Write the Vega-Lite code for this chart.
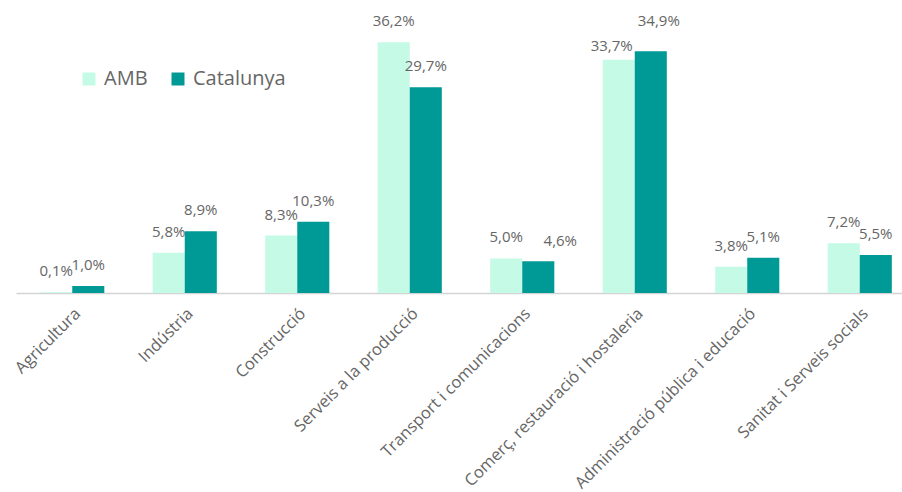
{
  "$schema": "https://vega.github.io/schema/vega-lite/v6.json",
  "width": 900,
  "height": 277,
  "autosize": {"type": "none"},
  "padding": {"left": 16, "top": 16, "right": 0, "bottom": 199},
  "background": "white",
  "config": {
    "view": {"stroke": null},
    "font": "Open Sans",
    "locale": {"number": {"decimal": ",", "thousands": ".", "grouping": [3], "currency": ["", " €"]}}
  },
  "data": {
    "values": [
      {"sector": "Agricultura", "serie": "AMB", "value": 0.001},
      {"sector": "Agricultura", "serie": "Catalunya", "value": 0.010},
      {"sector": "Indústria", "serie": "AMB", "value": 0.058},
      {"sector": "Indústria", "serie": "Catalunya", "value": 0.089},
      {"sector": "Construcció", "serie": "AMB", "value": 0.083},
      {"sector": "Construcció", "serie": "Catalunya", "value": 0.103},
      {"sector": "Serveis a la producció", "serie": "AMB", "value": 0.362},
      {"sector": "Serveis a la producció", "serie": "Catalunya", "value": 0.297},
      {"sector": "Transport i comunicacions", "serie": "AMB", "value": 0.050},
      {"sector": "Transport i comunicacions", "serie": "Catalunya", "value": 0.046},
      {"sector": "Comerç, restauració i hostaleria", "serie": "AMB", "value": 0.337},
      {"sector": "Comerç, restauració i hostaleria", "serie": "Catalunya", "value": 0.349},
      {"sector": "Administració pública i educació", "serie": "AMB", "value": 0.038},
      {"sector": "Administració pública i educació", "serie": "Catalunya", "value": 0.051},
      {"sector": "Sanitat i Serveis socials", "serie": "AMB", "value": 0.072},
      {"sector": "Sanitat i Serveis socials", "serie": "Catalunya", "value": 0.055}
    ]
  },
  "encoding": {
    "x": {
      "field": "sector", "type": "nominal", "sort": null,
      "scale": {"paddingInner": 0.43, "paddingOuter": 0.215},
      "axis": {
        "title": null, "labelAngle": -45, "labelFontSize": 16.5, "labelColor": "#666666",
        "labelPadding": 12, "ticks": false, "domainColor": "#d4d4d4", "domainWidth": 1.5,
        "labelLimit": 400, "labelFont": "Open Sans"
      }
    },
    "xOffset": {"field": "serie", "type": "nominal", "scale": {"paddingInner": 0, "paddingOuter": 0}},
    "y": {
      "field": "value", "type": "quantitative",
      "scale": {"domain": [0, 0.4], "nice": false},
      "axis": null
    },
    "text": {"field": "value", "type": "quantitative", "format": ".1%"}
  },
  "layer": [
    {
      "mark": {"type": "bar"},
      "encoding": {
        "text": null,
        "color": {
          "field": "serie", "type": "nominal",
          "scale": {"domain": ["AMB", "Catalunya"], "range": ["#c5fae6", "#009a96"]},
          "legend": {
            "title": null, "orient": "none", "direction": "horizontal",
            "legendX": 63, "legendY": 53,
            "symbolType": "square", "symbolSize": 169, "symbolStrokeWidth": 0,
            "labelFontSize": 20, "labelColor": "#666666", "labelFont": "Open Sans",
            "columnPadding": 20, "labelOffset": 5
          }
        }
      }
    },
    {
      "transform": [{"filter": "!(datum.sector === 'Comerç, restauració i hostaleria' || (datum.sector === 'Transport i comunicacions' && datum.serie === 'Catalunya'))"}],
      "mark": {"type": "text", "baseline": "middle", "dy": -21, "fontSize": 15, "color": "#666666", "font": "Open Sans"}
    },
    {
      "transform": [{"filter": "datum.sector === 'Transport i comunicacions' && datum.serie === 'Catalunya'"}],
      "mark": {"type": "text", "baseline": "middle", "dx": 22, "dy": -20, "fontSize": 15, "color": "#666666", "font": "Open Sans"}
    },
    {
      "transform": [{"filter": "datum.sector === 'Comerç, restauració i hostaleria' && datum.serie === 'AMB'"}],
      "mark": {"type": "text", "baseline": "middle", "dx": -7, "dy": -14, "fontSize": 15, "color": "#666666", "font": "Open Sans"}
    },
    {
      "transform": [{"filter": "datum.sector === 'Comerç, restauració i hostaleria' && datum.serie === 'Catalunya'"}],
      "mark": {"type": "text", "baseline": "middle", "dx": 8, "dy": -30, "fontSize": 15, "color": "#666666", "font": "Open Sans"}
    }
  ]
}
